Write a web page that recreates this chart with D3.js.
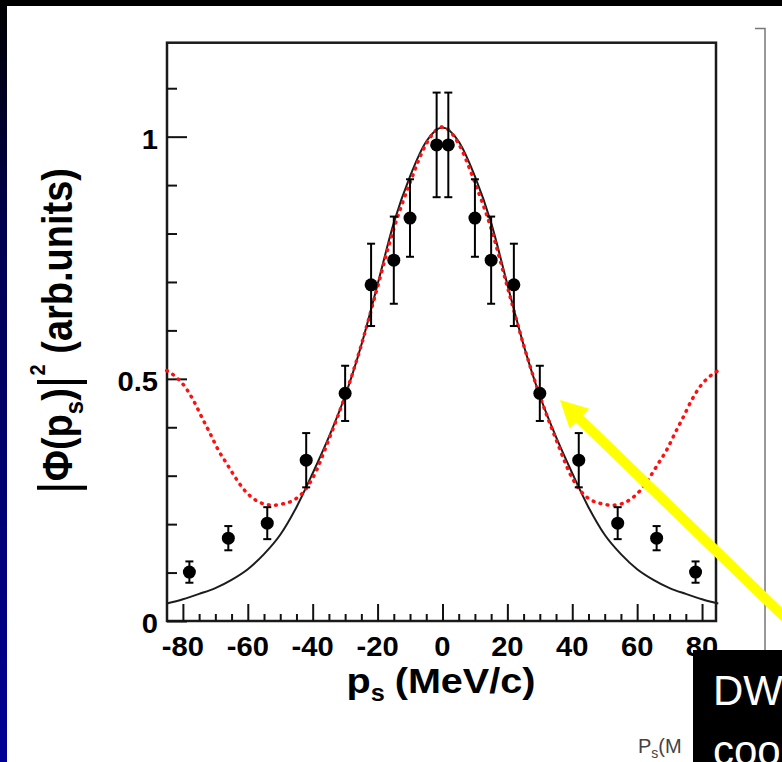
<!DOCTYPE html>
<html>
<head>
<meta charset="utf-8">
<script src="https://cdn.jsdelivr.net/npm/d3@7"></script>
<style>
  html, body { margin: 0; padding: 0; background: #fff; }
  svg { display: block; }
  text { font-family: "Liberation Sans", Arial, Helvetica, sans-serif; }
</style>
</head>
<body>
<svg id="chart" width="782" height="762"></svg>
<script>
// ---------------- data ----------------
const pointX   = [-78, -66, -54, -42, -30, -22, -15, -10, -1.8, 1.8, 10, 15, 22, 30, 42, 54, 66, 78];
const pointY   = [0.101, 0.171, 0.202, 0.332, 0.470, 0.694, 0.745, 0.832, 0.983, 0.983, 0.832, 0.745, 0.694, 0.470, 0.332, 0.202, 0.171, 0.101];
const pointErr = [0.022, 0.025, 0.033, 0.056, 0.057, 0.085, 0.090, 0.080, 0.108, 0.108, 0.080, 0.090, 0.085, 0.057, 0.056, 0.033, 0.025, 0.022];

// solid black calculation curve
const solidX = [-85, -80, -75, -70, -65, -60, -55, -50, -45, -40, -35, -30, -25, -20, -15, -10, -5, 0,
                5, 10, 15, 20, 25, 30, 35, 40, 45, 50, 55, 60, 65, 70, 75, 80, 85];
const solidY = [0.036, 0.045, 0.056, 0.068, 0.085, 0.107, 0.138, 0.178, 0.235, 0.305, 0.380, 0.465, 0.570, 0.695, 0.822, 0.918, 0.990, 1.019,
                0.990, 0.918, 0.822, 0.695, 0.570, 0.465, 0.380, 0.305, 0.235, 0.178, 0.138, 0.107, 0.085, 0.068, 0.056, 0.045, 0.036];

// red dotted calculation curve
const dottedX = [-85, -82, -79.4, -76.8, -74.2, -71.6, -69.1, -66.5, -63.9, -61.4, -58.3, -55.2, -52.1, -49.1, -46, -42.9, -40, -35, -30, -25, -20, -15, -10, -5, 0,
                 5, 10, 15, 20, 25, 30, 35, 40, 42.9, 46, 49.1, 52.1, 55.2, 58.3, 61.4, 63.9, 66.5, 69.1, 71.6, 74.2, 76.8, 79.4, 82, 85];
const dottedY = [0.517, 0.503, 0.484, 0.456, 0.421, 0.387, 0.353, 0.325, 0.297, 0.273, 0.253, 0.242, 0.239, 0.242, 0.249, 0.266, 0.295, 0.375, 0.465, 0.570, 0.690, 0.810, 0.905, 0.985, 1.020,
                 0.985, 0.905, 0.810, 0.690, 0.570, 0.465, 0.375, 0.295, 0.266, 0.249, 0.242, 0.239, 0.242, 0.253, 0.273, 0.297, 0.325, 0.353, 0.387, 0.421, 0.456, 0.484, 0.503, 0.517];

const xTickMajor = [-80, -60, -40, -20, 0, 20, 40, 60, 80];
const xTickLabels = ["-80", "-60", "-40", "-20", "0", "20", "40", "60", "80"];
const yTickMajor = [0, 0.5, 1];
const yTickLabels = ["0", "0.5", "1"];

// ---------------- drawing ----------------
(function () {
const svg = d3.select("#chart");
const W = 782, H = 762;
const pL = 167, pR = 716, pT = 42.7, pB = 621;

const x = d3.scaleLinear().domain([-84.9, 84.3]).range([pL, pR]);
const y = d3.scaleLinear().domain([0, 1.194]).range([pB, pT]);

// backgrounds
const defs = svg.append("defs");
const grad = defs.append("linearGradient").attr("id", "sideGrad").attr("x1", 0).attr("y1", 0).attr("x2", 0).attr("y2", 1);
grad.append("stop").attr("offset", "0").attr("stop-color", "#000000");
grad.append("stop").attr("offset", "0.3").attr("stop-color", "#000050");
grad.append("stop").attr("offset", "1").attr("stop-color", "#000095");

svg.append("rect").attr("width", W).attr("height", H).attr("fill", "#ffffff");
svg.append("rect").attr("x", 0).attr("y", 0).attr("width", 7).attr("height", H).attr("fill", "url(#sideGrad)");
svg.append("rect").attr("x", 0).attr("y", 0).attr("width", W).attr("height", 6).attr("fill", "#000");

// neighbouring panel edge
svg.append("path").attr("d", "M755,28.5H765V762").attr("fill", "none").attr("stroke", "#777").attr("stroke-width", 1.5);

// small text under the plot
const ps = svg.append("text").attr("x", 638).attr("y", 753).attr("font-size", 20).attr("fill", "#444");
ps.append("tspan").text("P");
ps.append("tspan").attr("font-size", 14).attr("dy", 5).text("s");
ps.append("tspan").attr("dy", -5).text("(M");

// frame
svg.append("rect").attr("x", pL).attr("y", pT).attr("width", pR - pL).attr("height", pB - pT)
  .attr("fill", "none").attr("stroke", "#1a1a1a").attr("stroke-width", 2.5);

// x ticks (bottom) with d3 axis
const xMinor = d3.range(-80, 81, 5).filter(v => v % 20 !== 0);
const gx = svg.append("g").attr("transform", `translate(0,${pB})`);
gx.call(d3.axisTop(x).tickValues(xTickMajor).tickSize(17).tickFormat(""));
gx.call(g => g.select(".domain").remove());
gx.selectAll(".tick line").attr("stroke", "#111").attr("stroke-width", 2);
const gxm = svg.append("g").attr("transform", `translate(0,${pB})`);
gxm.call(d3.axisTop(x).tickValues(xMinor).tickSize(7).tickFormat(""));
gxm.call(g => g.select(".domain").remove());
gxm.selectAll(".tick line").attr("stroke", "#111").attr("stroke-width", 2);

// y ticks (left)
const yMinor = d3.range(1, 12).map(v => v / 10).filter(v => Math.abs(v - 0.5) > 1e-6 && Math.abs(v - 1) > 1e-6);
const gy = svg.append("g").attr("transform", `translate(${pL},0)`);
gy.call(d3.axisRight(y).tickValues(yTickMajor).tickSize(20).tickFormat(""));
gy.call(g => g.select(".domain").remove());
gy.selectAll(".tick line").attr("stroke", "#111").attr("stroke-width", 2);
const gym = svg.append("g").attr("transform", `translate(${pL},0)`);
gym.call(d3.axisRight(y).tickValues(yMinor).tickSize(10).tickFormat(""));
gym.call(g => g.select(".domain").remove());
gym.selectAll(".tick line").attr("stroke", "#111").attr("stroke-width", 2);

// tick labels
svg.append("g").selectAll("text").data(xTickMajor).join("text")
  .attr("transform", d => `translate(${x(d)},656) scale(1.08,1)`)
  .attr("text-anchor", "middle").attr("font-size", 27).attr("font-weight", "bold").attr("fill", "#000")
  .text((d, i) => xTickLabels[i]);
svg.append("g").selectAll("text").data(yTickMajor).join("text")
  .attr("transform", d => `translate(158,${y(d) + 12}) scale(1.08,1)`)
  .attr("text-anchor", "end").attr("font-size", 27).attr("font-weight", "bold").attr("fill", "#000")
  .text((d, i) => yTickLabels[i]);

// axis titles
const xt = svg.append("text").attr("transform", "translate(441,693) scale(1.1,1)")
  .attr("text-anchor", "middle").attr("font-size", 36).attr("font-weight", "bold").attr("fill", "#000");
xt.append("tspan").text("p");
xt.append("tspan").attr("font-size", 23).attr("dy", 8).text("s");
xt.append("tspan").attr("dy", -8).attr("dx", 9).text("(MeV/c)");

const yt = svg.append("text").attr("transform", "translate(72,331) rotate(-90) scale(1,1.1)")
  .attr("text-anchor", "middle").attr("font-size", 38).attr("font-weight", "bold").attr("fill", "#000");
yt.append("tspan").attr("font-size", 49).attr("font-weight", "normal").attr("dy", 4).text("|");
yt.append("tspan").attr("dy", -4).text("Φ(p");
yt.append("tspan").attr("font-size", 24).attr("dy", 10).text("s");
yt.append("tspan").attr("dy", -10).text(")");
yt.append("tspan").attr("font-size", 49).attr("font-weight", "normal").attr("dy", 4).text("|");
yt.append("tspan").attr("font-size", 20).attr("dy", -29).text("2");
yt.append("tspan").attr("dy", 25).text(" (arb.units)");

// curves
const plot = svg.append("g");
const line = d3.line().x(d => x(d[0])).y(d => y(d[1])).curve(d3.curveMonotoneX);
plot.append("path").datum(solidX.map((v, i) => [v, solidY[i]]))
  .attr("d", line).attr("fill", "none").attr("stroke", "#1c1c1c").attr("stroke-width", 2);
plot.append("path").datum(dottedX.map((v, i) => [v, dottedY[i]]))
  .attr("d", line).attr("fill", "none").attr("stroke", "#ff1010").attr("stroke-width", 3.5)
  .attr("stroke-linecap", "round").attr("stroke-dasharray", "0.8 6.4");

// data points with error bars
const pts = pointX.map((v, i) => ({ x: v, y: pointY[i], e: pointErr[i] }));
const gp = plot.append("g");
gp.selectAll("line.err").data(pts).join("line").attr("class", "err")
  .attr("x1", d => x(d.x)).attr("x2", d => x(d.x))
  .attr("y1", d => y(d.y + d.e)).attr("y2", d => y(d.y - d.e))
  .attr("stroke", "#000").attr("stroke-width", 2);
gp.selectAll("line.capT").data(pts).join("line").attr("class", "capT")
  .attr("x1", d => x(d.x) - 4).attr("x2", d => x(d.x) + 4)
  .attr("y1", d => y(d.y + d.e)).attr("y2", d => y(d.y + d.e))
  .attr("stroke", "#000").attr("stroke-width", 2);
gp.selectAll("line.capB").data(pts).join("line").attr("class", "capB")
  .attr("x1", d => x(d.x) - 4).attr("x2", d => x(d.x) + 4)
  .attr("y1", d => y(d.y - d.e)).attr("y2", d => y(d.y - d.e))
  .attr("stroke", "#000").attr("stroke-width", 2);
gp.selectAll("circle").data(pts).join("circle")
  .attr("cx", d => x(d.x)).attr("cy", d => y(d.y)).attr("r", 6.5).attr("fill", "#000");

// yellow arrow annotation
const tip = [560, 400], dir = [0.719, 0.695], hl = 27, hw = 14;
const base = [tip[0] + hl * dir[0], tip[1] + hl * dir[1]];
const perp = [-dir[1], dir[0]];
svg.append("line").attr("x1", base[0] - 2 * dir[0]).attr("y1", base[1] - 2 * dir[1])
  .attr("x2", 820).attr("y2", tip[1] + (820 - tip[0]) / dir[0] * dir[1])
  .attr("stroke", "#ffff00").attr("stroke-width", 10);
svg.append("path").attr("d", `M${tip[0]},${tip[1]}L${base[0] + hw * perp[0]},${base[1] + hw * perp[1]}L${base[0] - hw * perp[0]},${base[1] - hw * perp[1]}Z`)
  .attr("fill", "#ffff00");

// black caption box (cut by the window edge)
svg.append("rect").attr("x", 693).attr("y", 650).attr("width", 89).attr("height", 112).attr("fill", "#000");
svg.append("text").attr("x", 713).attr("y", 705).attr("font-size", 42).attr("fill", "#fff").text("DW");
svg.append("text").attr("x", 713).attr("y", 765).attr("font-size", 42).attr("fill", "#fff").text("coo");
})();
</script>
</body>
</html>
